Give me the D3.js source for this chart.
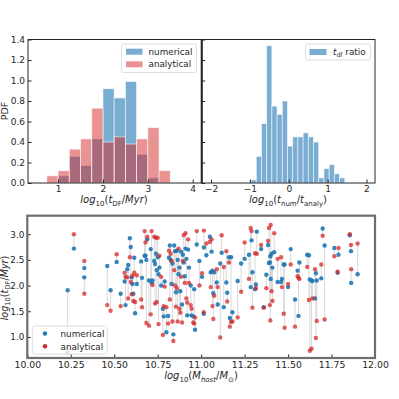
<!DOCTYPE html>
<html>
<head>
<meta charset="utf-8">
<script src="https://cdn.jsdelivr.net/npm/d3@7"></script>
<style>
body { margin: 0; background: #fff; }
text { font-family: "DejaVu Sans", sans-serif; fill: #262626; }
</style>
</head>
<body>
<svg id="fig" width="399" height="399"></svg>
<script>
// histogram of log10(t_DF/Myr), bins of 0.25
var tdfEdges = [0.75, 1.0, 1.25, 1.5, 1.75, 2.0, 2.25, 2.5, 2.75, 3.0, 3.25, 3.5];
var numPdf = [0, 0.07, 0.26, 0.17, 0.43, 0.92, 0.83, 0.99, 0.28, 0.05, 0];
var anaPdf = [0.07, 0.12, 0.33, 0.43, 0.73, 0.40, 0.45, 0.38, 0.43, 0.54, 0.12];

// histogram of log10(t_num/t_analy)
var ratioEdges = [-0.97, -0.836, -0.702, -0.568, -0.434, -0.3, -0.166, -0.032, 0.102, 0.236,
  0.37, 0.504, 0.638, 0.772, 0.906, 1.04, 1.174, 1.308, 1.442];
var ratioPdf = [0.03, 0.26, 0.58, 1.34, 0.75, 0.67, 0.80, 0.36, 0.45, 0.45, 0.49, 0.45, 0.40,
  0.05, 0.14, 0.18, 0.09, 0.05];

var pdfTicks = [0.0, 0.2, 0.4, 0.6, 0.8, 1.0, 1.2, 1.4];
var tdfTicks = [1, 2, 3, 4];
var ratioTicks = [-2, -1, 0, 1, 2];

// scatter: host mass vs t_DF, numerical and analytical
var mHost = [10.232, 10.268, 10.328, 10.328, 10.460, 10.479, 10.514, 10.537,
  10.56, 10.565, 10.575, 10.58, 10.59, 10.595, 10.60, 10.605, 10.61, 10.615, 10.62, 10.63,
  10.655, 10.66, 10.675, 10.68, 10.685, 10.69, 10.70, 10.71, 10.715, 10.72, 10.73, 10.735,
  10.74, 10.745, 10.75, 10.755, 10.76, 10.77, 10.78, 10.785, 10.79, 10.80, 10.81, 10.815,
  10.82, 10.825, 10.83, 10.835, 10.84, 10.845, 10.85, 10.855, 10.86, 10.865, 10.87, 10.875,
  10.88, 10.885, 10.89, 10.895, 10.90, 10.905, 10.91, 10.915, 10.92, 10.925, 10.93, 10.94,
  10.945, 10.955, 10.96, 10.965, 10.975, 10.99,
  11.005, 11.015, 11.016, 11.03, 11.05, 11.055, 11.06, 11.065, 11.07, 11.075, 11.09, 11.095,
  11.11, 11.118, 11.13, 11.145, 11.15, 11.16, 11.165, 11.172, 11.18, 11.21, 11.23, 11.25,
  11.275, 11.285, 11.29, 11.295, 11.31, 11.315, 11.32, 11.345,
  11.36, 11.375, 11.385, 11.39, 11.395, 11.398, 11.40, 11.405, 11.41, 11.42, 11.44, 11.46,
  11.465, 11.475, 11.48, 11.50, 11.515, 11.54, 11.555, 11.56, 11.565, 11.61, 11.62, 11.625,
  11.635, 11.64, 11.655, 11.66, 11.665, 11.691, 11.699, 11.71, 11.766, 11.785, 11.79,
  11.855, 11.862, 11.863, 11.90];
var tNum = [1.91, 2.72, 2.34, 2.16, 2.38, 1.91, 2.46, 1.84,
  2.08, 1.62, 2.32, 2.40, 2.92, 2.75, 2.16, 2.03, 1.84, 2.54, 1.46, 2.03,
  2.47, 2.15, 2.58, 2.58, 2.50, 2.90, 2.10, 2.71, 2.06, 2.10, 2.48, 2.42,
  2.62, 2.30, 2.55, 2.22, 2.35, 2.00, 1.55, 1.40, 2.08, 1.09, 1.41, 2.54,
  2.78, 2.50, 2.03, 2.43, 1.05, 2.78, 2.67, 1.87, 2.68, 2.50, 2.22, 2.35,
  1.89, 2.66, 1.63, 2.60, 2.45, 2.18, 2.72, 2.52, 1.42, 2.70, 2.35, 2.00,
  1.42, 1.40, 1.93, 1.14, 2.80, 2.48,
  2.17, 1.45, 2.74, 2.59, 2.95, 2.26, 2.66, 2.29, 1.85, 2.26, 2.06, 1.63,
  2.43, 2.64, 1.58, 2.06, 1.86, 2.55, 1.37, 2.55, 1.48, 2.09, 2.43, 2.52,
  2.60, 1.97, 2.88, 2.26, 1.93, 2.02, 3.05, 2.71,
  1.58, 2.21, 2.79, 2.44, 2.45, 2.57, 2.13, 2.62, 2.35, 2.65, 2.07, 2.07,
  2.13, 2.41, 2.41, 1.97, 2.71, 1.73, 2.29, 1.41, 2.45, 2.60, 2.59, 2.12,
  2.10, 2.09, 1.75, 2.24, 2.10, 2.14, 3.11, 2.78, 2.73, 2.25, 2.60,
  2.98, 2.67, 2.05, 2.22];
var tAna = [0.70, 3.00, 2.48, 1.84, 1.62, 1.51, 2.61, 1.60,
  2.25, 2.17, 2.16, 1.75, 2.55, 2.07, 1.83, 2.19, 1.70, 2.25, 1.68, 2.20,
  1.73, 1.58, 3.06, 2.84, 1.27, 2.95, 1.22, 1.44, 3.06, 2.01, 2.95, 1.65,
  2.93, 1.68, 2.93, 1.25, 2.58, 2.17, 1.04, 1.60, 1.98, 1.58, 1.26, 2.68,
  1.73, 2.62, 2.48, 1.30, 0.92, 2.30, 2.00, 1.59, 1.95, 1.30, 2.72, 1.55,
  1.47, 2.17, 1.28, 2.48, 2.98, 2.05, 3.02, 1.75, 1.67, 2.90, 2.05, 1.62,
  1.55, 1.28, 1.26, 1.38, 3.06, 2.00,
  2.24, 1.48, 3.07, 2.82, 2.85, 1.97, 2.90, 1.60, 1.35, 1.80, 2.32, 1.97,
  0.99, 2.98, 2.36, 2.67, 1.69, 2.45, 1.20, 1.29, 1.30, 1.38, 1.88, 2.84,
  2.13, 3.12, 3.06, 1.57, 2.63, 1.95, 2.62, 2.79,
  1.57, 1.95, 2.87, 3.12, 1.62, 1.32, 3.18, 1.89, 1.70, 3.02, 2.52, 2.55,
  1.97, 1.45, 1.18, 2.03, 2.41, 1.20, 2.18, 2.15, 2.13, 2.36, 1.72, 0.73,
  0.77, 1.75, 2.32, 0.98, 1.31, 2.41, 2.97, 1.34, 2.57, 2.27, 2.73,
  3.00, 2.79, 2.32, 2.82];
var massTicks = [10.0, 10.25, 10.5, 10.75, 11.0, 11.25, 11.5, 11.75, 12.0];
var tdfScatterTicks = [1.0, 1.5, 2.0, 2.5, 3.0];

var blue = "#1f77b4", red = "#d62728";
var svg = d3.select("#fig");

// small helper for matplotlib style mathtext labels
function mathText(g, parts, size) {
  var txt = g.append("text").attr("font-size", size);
  var shift = 0;
  parts.forEach(function(p) {
    var target = p.sub ? size * 0.25 : 0;
    txt.append("tspan").text(p.t)
      .attr("dy", target - shift)
      .attr("font-size", p.sub ? size * 0.7 : size)
      .attr("font-style", p.i ? "italic" : "normal");
    shift = target;
  });
  return txt;
}

function frame(x0, y0, x1, y1, col, w) {
  svg.append("rect").attr("x", x0).attr("y", y0)
    .attr("width", x1 - x0).attr("height", y1 - y0)
    .attr("fill", "none").attr("stroke", col).attr("stroke-width", w);
}

function styleAxis(g, size) {
  g.select(".domain").remove();
  g.selectAll(".tick line").attr("stroke", "#262626");
  g.selectAll(".tick text").attr("font-size", size).attr("fill", "#262626")
    .style("font-family", "DejaVu Sans");
}

function drawBars(g, edges, vals, x, y, col, op) {
  g.selectAll(null).data(vals).enter().append("rect")
    .attr("x", function(d, i) { return x(edges[i]); })
    .attr("width", function(d, i) { return x(edges[i + 1]) - x(edges[i]); })
    .attr("y", function(d) { return y(d); })
    .attr("height", function(d) { return y(0) - y(d); })
    .attr("fill", col).attr("fill-opacity", op)
    .attr("stroke", "#fff").attr("stroke-opacity", 0.7).attr("stroke-width", 0.8);
}

// ---------- top left: PDF of t_DF ----------
var L = { x0: 28, x1: 201.7, y0: 39.5, y1: 183 };
var xL = d3.scaleLinear().domain([0.33, 4.2]).range([L.x0, L.x1]);
var yP = d3.scaleLinear().domain([0, 1.4]).range([L.y1, L.y0]);

var gL = svg.append("g");
drawBars(gL, tdfEdges, numPdf, xL, yP, blue, 0.6);
drawBars(gL, tdfEdges, anaPdf, xL, yP, red, 0.5);

var axL = svg.append("g").attr("transform", "translate(0," + L.y1 + ")")
  .call(d3.axisBottom(xL).tickValues(tdfTicks).tickSize(-3.5).tickPadding(3).tickFormat(d3.format("d")));
styleAxis(axL, 9);
var ayL = svg.append("g").attr("transform", "translate(" + L.x0 + ",0)")
  .call(d3.axisLeft(yP).tickValues(pdfTicks).tickSize(-3.5).tickPadding(3).tickFormat(d3.format(".1f")));
styleAxis(ayL, 9);

svg.append("text").attr("transform", "translate(8,111) rotate(-90)")
  .attr("text-anchor", "middle").attr("font-size", 9.5).text("PDF");
mathText(svg, [{t: "log", i: true}, {t: "10", sub: true}, {t: "("}, {t: "t", i: true},
  {t: "DF", sub: true}, {t: "/"}, {t: "Myr", i: true}, {t: ")"}], 10)
  .attr("x", 114).attr("y", 203).attr("text-anchor", "middle");

// legend top left
svg.append("rect").attr("x", 121.5).attr("y", 44).attr("width", 75).attr("height", 28.5)
  .attr("rx", 2).attr("fill", "#fff").attr("fill-opacity", 0.8).attr("stroke", "#d5d5d5").attr("stroke-width", 0.8);
[["numerical", blue, 0.6], ["analytical", red, 0.5]].forEach(function(d, i) {
  svg.append("rect").attr("x", 126).attr("y", 48.7 + i * 12.6).attr("width", 16.5).attr("height", 6)
    .attr("fill", d[1]).attr("fill-opacity", d[2]);
  svg.append("text").attr("x", 148.5).attr("y", 54.8 + i * 12.6).attr("font-size", 8.8).text(d[0]);
});

// ---------- top right: ratio ----------
var R = { x0: 201.7, x1: 375, y0: 39.5, y1: 183 };
var xR = d3.scaleLinear().domain([-2.24, 2.22]).range([R.x0, R.x1]);
var gR = svg.append("g");
drawBars(gR, ratioEdges, ratioPdf, xR, yP, blue, 0.6);

var axR = svg.append("g").attr("transform", "translate(0," + R.y1 + ")")
  .call(d3.axisBottom(xR).tickValues(ratioTicks).tickSize(-3.5).tickPadding(3).tickFormat(d3.format("d")));
styleAxis(axR, 9);
var ayR = svg.append("g").attr("transform", "translate(" + R.x0 + ",0)")
  .call(d3.axisLeft(yP).tickValues(pdfTicks).tickSize(-3.5).tickFormat(""));
styleAxis(ayR, 9);

mathText(svg, [{t: "log", i: true}, {t: "10", sub: true}, {t: "("}, {t: "t", i: true},
  {t: "num", sub: true}, {t: "/"}, {t: "t", i: true}, {t: "analy", sub: true}, {t: ")"}], 10)
  .attr("x", 288).attr("y", 203).attr("text-anchor", "middle");

svg.append("rect").attr("x", 305.5).attr("y", 44).attr("width", 65).attr("height", 16)
  .attr("rx", 2).attr("fill", "#fff").attr("fill-opacity", 0.8).attr("stroke", "#d5d5d5").attr("stroke-width", 0.8);
svg.append("rect").attr("x", 309.5).attr("y", 49).attr("width", 17).attr("height", 6)
  .attr("fill", blue).attr("fill-opacity", 0.6);
mathText(svg, [{t: "t", i: true}, {t: "df", sub: true}, {t: " ratio"}], 8.8)
  .attr("x", 333).attr("y", 55);

frame(L.x0, L.y0, L.x1, L.y1, "#262626", 1);
frame(R.x0, R.y0, R.x1, R.y1, "#262626", 1);
svg.append("line").attr("x1", R.x0).attr("x2", R.x0).attr("y1", R.y0).attr("y2", R.y1)
  .attr("stroke", "#262626").attr("stroke-width", 2);

// ---------- bottom: scatter ----------
var B = { x0: 27.3, x1: 375, y0: 215.7, y1: 358 };
var xM = d3.scaleLinear().domain([10, 12]).range([B.x0, B.x1]);
var yT = d3.scaleLinear().domain([0.59, 3.36]).range([B.y1, B.y0]);

var gS = svg.append("g");
gS.selectAll(null).data(mHost).enter().append("line")
  .attr("x1", function(d) { return xM(d); }).attr("x2", function(d) { return xM(d); })
  .attr("y1", function(d, i) { return yT(tNum[i]); })
  .attr("y2", function(d, i) { return yT(tAna[i]); })
  .attr("stroke", "#cfcfcf").attr("stroke-width", 1).attr("stroke-opacity", 0.8);
gS.selectAll(null).data(mHost).enter().append("circle")
  .attr("cx", function(d) { return xM(d); }).attr("cy", function(d, i) { return yT(tNum[i]); })
  .attr("r", 2.2).attr("fill", blue).attr("fill-opacity", 0.9);
gS.selectAll(null).data(mHost).enter().append("circle")
  .attr("cx", function(d) { return xM(d); }).attr("cy", function(d, i) { return yT(tAna[i]); })
  .attr("r", 2.2).attr("fill", red).attr("fill-opacity", 0.75);

var axB = svg.append("g").attr("transform", "translate(0," + B.y1 + ")")
  .call(d3.axisBottom(xM).tickValues(massTicks).tickSize(-3.5).tickPadding(3).tickFormat(d3.format(".2f")));
styleAxis(axB, 9.3);
var ayB = svg.append("g").attr("transform", "translate(" + B.x0 + ",0)")
  .call(d3.axisLeft(yT).tickValues(tdfScatterTicks).tickSize(-3.5).tickPadding(3).tickFormat(d3.format(".1f")));
styleAxis(ayB, 8.8);

frame(B.x0, B.y0, B.x1, B.y1, "#6e6e6e", 2.2);

mathText(svg, [{t: "log", i: true}, {t: "10", sub: true}, {t: "("}, {t: "M", i: true},
  {t: "host", sub: true, i: true}, {t: "/"}, {t: "M", i: true}, {t: "\u2299", sub: true}, {t: ")"}], 10)
  .attr("x", 201).attr("y", 379).attr("text-anchor", "middle");
mathText(svg, [{t: "log", i: true}, {t: "10", sub: true}, {t: "("}, {t: "t", i: true},
  {t: "DF", sub: true}, {t: "/"}, {t: "Myr", i: true}, {t: ")"}], 9.6)
  .attr("text-anchor", "middle").attr("transform", "translate(8,288) rotate(-90)");

svg.append("rect").attr("x", 32.3).attr("y", 326).attr("width", 75).attr("height", 28)
  .attr("rx", 2).attr("fill", "#fff").attr("fill-opacity", 0.8).attr("stroke", "#d5d5d5").attr("stroke-width", 0.8);
[["numerical", blue], ["analytical", red]].forEach(function(d, i) {
  svg.append("circle").attr("cx", 45).attr("cy", 333.5 + i * 12.7).attr("r", 2.2).attr("fill", d[1]);
  svg.append("text").attr("x", 60.5).attr("y", 336.8 + i * 12.7).attr("font-size", 8.8).text(d[0]);
});
</script>
</body>
</html>
